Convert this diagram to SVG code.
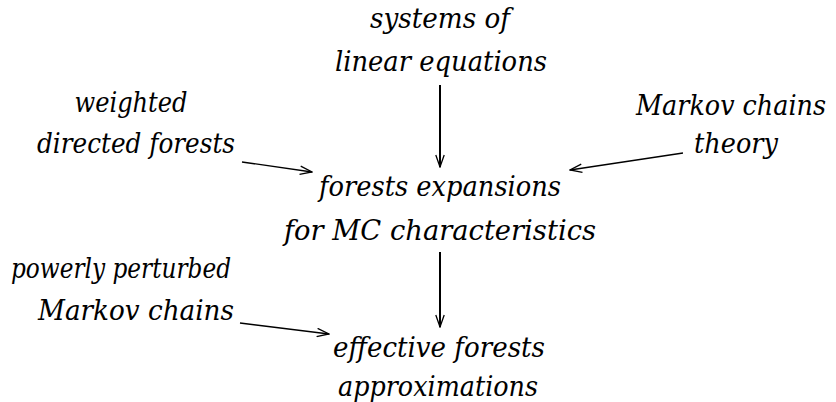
<svg xmlns="http://www.w3.org/2000/svg" width="836" height="402" viewBox="0 0 836 402">
<style>
.c{fill:none;stroke:#000;stroke-width:1.3}
.v{fill:none;stroke:#000;stroke-width:2}
</style>
<defs>
<marker id="ah" viewBox="0 0 14 10" refX="13" refY="5" markerWidth="14" markerHeight="10" markerUnits="userSpaceOnUse" orient="auto">
<path d="M1,0.8 L13,5 L1,9.2" fill="none" stroke="#000" stroke-width="1.3"/>
</marker>
</defs>
<rect width="836" height="402" fill="#fff"/>
<g font-family="'DejaVu Serif', serif" font-style="italic" font-size="27" fill="#000" text-anchor="middle">
<g id="n-systems"><text x="440" y="28" textLength="140" lengthAdjust="spacingAndGlyphs">systems of</text><text x="441" y="71" textLength="212" lengthAdjust="spacingAndGlyphs">linear equations</text></g>
<g id="n-weighted"><text x="131" y="112" textLength="113" lengthAdjust="spacingAndGlyphs">weighted</text><text x="136" y="153" textLength="198" lengthAdjust="spacingAndGlyphs">directed forests</text></g>
<g id="n-markov"><text x="731" y="115" textLength="190" lengthAdjust="spacingAndGlyphs">Markov chains</text><text x="736" y="153" textLength="84" lengthAdjust="spacingAndGlyphs">theory</text></g>
<g id="n-forests"><text x="440" y="196" textLength="242" lengthAdjust="spacingAndGlyphs">forests expansions</text><text x="440" y="240" textLength="312" lengthAdjust="spacingAndGlyphs">for MC characteristics</text></g>
<g id="n-powerly"><text x="121" y="278" textLength="220" lengthAdjust="spacingAndGlyphs">powerly perturbed</text><text x="136" y="320" textLength="196" lengthAdjust="spacingAndGlyphs">Markov chains</text></g>
<g id="n-effective"><text x="439" y="357" textLength="212" lengthAdjust="spacingAndGlyphs">effective forests</text><text x="438" y="396" textLength="200" lengthAdjust="spacingAndGlyphs">approximations</text></g>
</g>
<g id="connectors">
<line class="v" x1="440" y1="85" x2="440" y2="167" marker-end="url(#ah)"/>
<line class="v" x1="440" y1="252" x2="440" y2="327" marker-end="url(#ah)"/>
<line class="c" x1="242" y1="162" x2="312" y2="172" marker-end="url(#ah)"/>
<line class="c" x1="683" y1="153" x2="570" y2="170" marker-end="url(#ah)"/>
<line class="c" x1="240" y1="323" x2="329" y2="334" marker-end="url(#ah)"/>
</g>
</svg>
